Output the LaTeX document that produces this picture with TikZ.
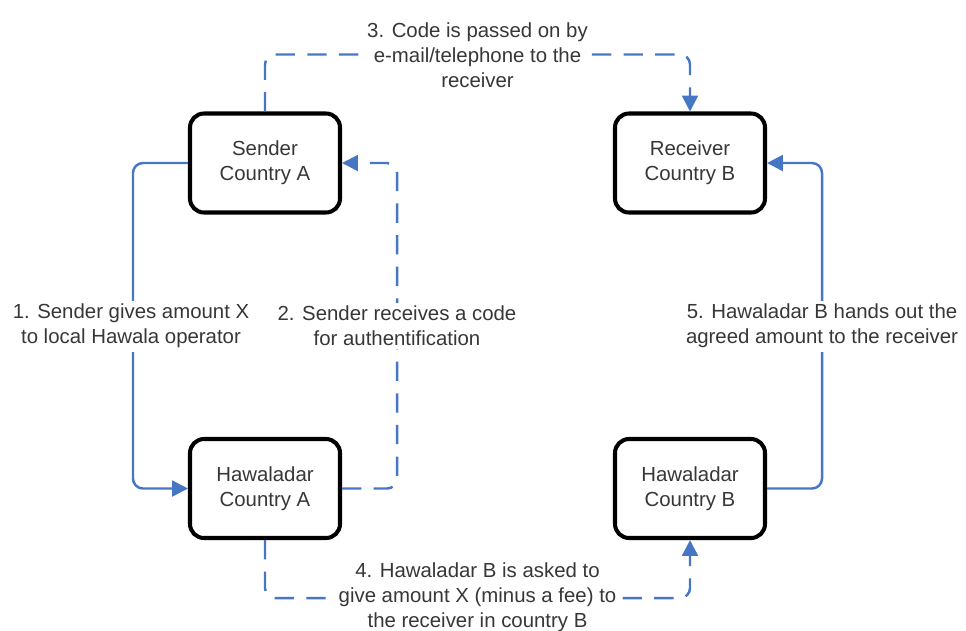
\documentclass[tikz,border=0pt]{standalone}
\usepackage{fontspec}
\setmainfont{Liberation Sans}
\usetikzlibrary{arrows.meta}
\definecolor{flowblue}{RGB}{70,118,196}
\definecolor{txtgray}{RGB}{55,55,55}
\tikzset{
  party/.style={draw=black, line width=2.3pt, rounded corners=0.28cm, fill=white,
    minimum width=3.0cm, minimum height=1.98cm, align=center, text=txtgray,
    font=\fontsize{11.6pt}{14.2pt}\selectfont},
  steplbl/.style={fill=white, align=center, inner sep=2pt, text=txtgray,
    font=\fontsize{11.6pt}{14.2pt}\selectfont},
  flow/.style={draw=flowblue, line width=1.4pt, rounded corners=0.2cm,
    -{Triangle[length=9pt,width=9pt]}},
  codeflow/.style={flow, dash pattern=on 11pt off 7pt}
}
\begin{document}
\begin{tikzpicture}
    \useasboundingbox (0,0) rectangle (19.32,-12.6);

    \node[party] (sender) at (5.30,-3.26) {Sender\\Country A};
    \node[party] (receiver) at (13.80,-3.26) {Receiver\\Country B};
    \node[party] (hawA) at (5.30,-9.77) {Hawaladar\\Country A};
    \node[party] (hawB) at (13.80,-9.77) {Hawaladar\\Country B};

    \draw[flow] (sender.west) -- ++(-1.1,0) |- (hawA.west);
    \draw[codeflow] (hawA.east) -- ++(1.1,0) |- (sender.east);
    \draw[codeflow] (sender.north) -- ++(0,1.14) -| (receiver.north);
    \draw[codeflow] (hawA.south) -- ++(0,-1.16) -| (hawB.south);
    \draw[flow] (hawB.east) -- ++(1.1,0) |- (receiver.east);

    \node[steplbl] (step1) at (2.62,-6.52) {1. Sender gives amount X\\to local Hawala operator};
    \node[steplbl] (step2) at (7.94,-6.52) {2. Sender receives a code\\for authentification};
    \node[steplbl] (step3) at (9.55,-1.10) {3. Code is passed on by\\e-mail/telephone to the\\receiver};
    \node[steplbl] (step4) at (9.55,-11.94) {4. Hawaladar B is asked to\\give amount X (minus a fee) to\\the receiver in country B};
    \node[steplbl] (step5) at (16.44,-6.52) {5. Hawaladar B hands out the\\agreed amount to the receiver};
\end{tikzpicture}
\end{document}
